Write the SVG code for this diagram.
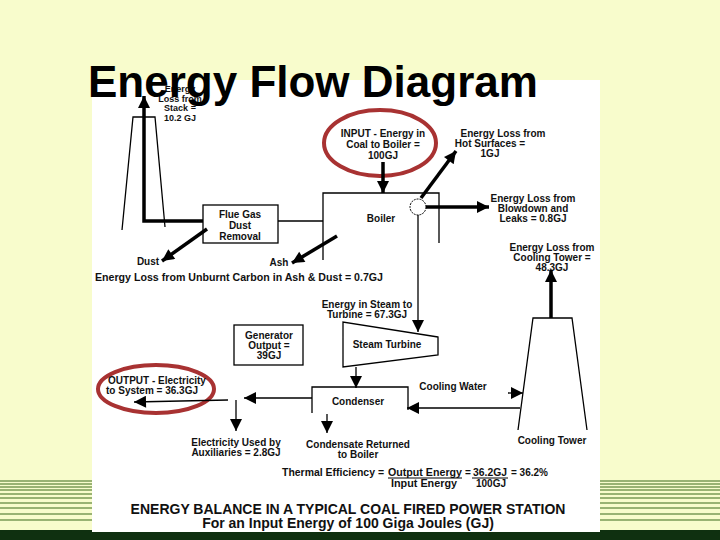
<svg xmlns="http://www.w3.org/2000/svg" width="720" height="540" viewBox="0 0 720 540">
<style>
text{font-family:"Liberation Sans",Arial,sans-serif;font-weight:bold;font-size:10px;fill:#111;text-anchor:middle}
.s{font-size:9px}
.l{fill:none;stroke:#000;stroke-width:1.3}
.t{fill:none;stroke:#000;stroke-width:3.5}
.g{stroke:#3a6a1a;stroke-width:1}
</style>
<defs>
<marker id="am" viewBox="0 0 10 10" refX="10" refY="5" markerWidth="14" markerHeight="12" orient="auto" markerUnits="userSpaceOnUse">
<path d="M0,0 L10,5 L0,10 Z" fill="#000"/>
</marker>
</defs>
<rect width="720" height="540" fill="#f8fccc"/>
<g class="g">
<line x1="0" y1="481" x2="92" y2="481"/><line x1="0" y1="484" x2="92" y2="484"/><line x1="0" y1="487" x2="92" y2="487"/><line x1="0" y1="490" x2="92" y2="490"/><line x1="0" y1="494" x2="92" y2="494"/><line x1="0" y1="498" x2="92" y2="498"/><line x1="0" y1="503" x2="92" y2="503"/><line x1="0" y1="508" x2="92" y2="508"/><line x1="0" y1="514" x2="92" y2="514"/><line x1="0" y1="520" x2="92" y2="520"/>
<line x1="600" y1="481" x2="720" y2="481"/><line x1="600" y1="484" x2="720" y2="484"/><line x1="600" y1="487" x2="720" y2="487"/><line x1="600" y1="490" x2="720" y2="490"/><line x1="600" y1="494" x2="720" y2="494"/><line x1="600" y1="498" x2="720" y2="498"/><line x1="600" y1="503" x2="720" y2="503"/><line x1="600" y1="508" x2="720" y2="508"/><line x1="600" y1="514" x2="720" y2="514"/><line x1="600" y1="520" x2="720" y2="520"/>
</g>
<rect x="0" y="530" width="720" height="10" fill="#0f3010"/>
<rect x="92" y="80" width="508" height="452" fill="#fff"/>

<g id="stack">
<path class="l" d="M122,230 L133,117 L155,117 L165,227"/>
<text class="s" x="180" y="92">Energy</text><text class="s" x="180" y="101.5">Loss from</text><text class="s" x="180" y="111">Stack =</text><text class="s" x="180" y="121">10.2 GJ</text>
</g>
<g id="flue"><rect class="l" x="203" y="205" width="75" height="38"/>
<text x="240" y="218">Flue Gas</text><text x="240" y="229">Dust</text><text x="240" y="240">Removal</text></g>
<g id="boiler"><path class="l" d="M323,260 L323,193 L439,193 L439,243"/><text x="381" y="222">Boiler</text>
<circle cx="418" cy="207" r="8" fill="#fff" stroke="#000" stroke-width="1" stroke-dasharray="2,1"/></g>
<g id="input"><ellipse cx="380" cy="143" rx="56" ry="33" fill="none" stroke="#a83232" stroke-width="4"/>
<text x="383" y="137">INPUT - Energy in</text><text x="383" y="148">Coal to Boiler =</text><text x="383" y="159">100GJ</text></g>
<g id="hot"><text x="503" y="137">Energy Loss from</text><text x="490" y="147">Hot Surfaces =</text><text x="490" y="157">1GJ</text></g>
<g id="blowdown"><text x="533" y="202">Energy Loss from</text><text x="533" y="212">Blowdown and</text><text x="533" y="222">Leaks = 0.8GJ</text></g>
<g id="ctloss"><text x="552" y="251">Energy Loss from</text><text x="552" y="261">Cooling Tower =</text><text x="552" y="271">48.3GJ</text></g>
<g id="ashdust"><text x="148" y="265">Dust</text><text x="279" y="266">Ash</text>
<text x="95" y="281" style="text-anchor:start" textLength="288" lengthAdjust="spacingAndGlyphs">Energy Loss from Unburnt Carbon in Ash &amp; Dust = 0.7GJ</text></g>
<g id="steam"><text x="367" y="308">Energy in Steam to</text><text x="367" y="318">Turbine = 67.3GJ</text></g>
<g id="turbine"><path class="l" d="M438,337 L343,322 L343,367 L438,355 Z"/><text x="387" y="348">Steam Turbine</text></g>
<g id="generator"><rect class="l" x="234" y="325" width="69" height="40"/>
<text x="269" y="339">Generator</text><text x="269" y="349">Output =</text><text x="269" y="359">39GJ</text></g>
<g id="condenser"><path class="l" d="M312,413 L312,387 L408,387 L408,410"/><text x="358" y="405">Condenser</text></g>
<g id="output"><ellipse cx="156" cy="389" rx="58" ry="24" fill="none" stroke="#a83232" stroke-width="4"/>
<text x="157" y="384">OUTPUT - Electricity</text><text x="152" y="394">to System = 36.3GJ</text></g>
<g id="aux"><text x="236" y="446">Electricity Used by</text><text x="236" y="456">Auxiliaries = 2.8GJ</text></g>
<g id="condensate"><text x="358" y="448">Condensate Returned</text><text x="358" y="458">to Boiler</text></g>
<g id="tower"><path class="l" d="M518,430 L533,318 L572,318 L587,430"/><text x="552" y="444">Cooling Tower</text></g>
<text x="453" y="390">Cooling Water</text>
<g id="eff">
<text x="282" y="476" style="text-anchor:start" textLength="102" lengthAdjust="spacingAndGlyphs">Thermal Efficiency =</text>
<text x="388" y="476" style="text-anchor:start" textLength="74" lengthAdjust="spacingAndGlyphs">Output Energy</text>
<text x="391" y="487" style="text-anchor:start" textLength="66" lengthAdjust="spacingAndGlyphs">Input Energy</text>
<line x1="388" y1="478" x2="462" y2="478" stroke="#000"/>
<text x="465" y="476" style="text-anchor:start">=</text>
<text x="473" y="476" style="text-anchor:start" textLength="34" lengthAdjust="spacingAndGlyphs">36.2GJ</text>
<text x="476" y="487" style="text-anchor:start">100GJ</text>
<line x1="472" y1="478" x2="508" y2="478" stroke="#000"/>
<text x="511" y="476" style="text-anchor:start">= 36.2%</text>
</g>
<g id="footer"><text x="348" y="514" style="font-size:14px">ENERGY BALANCE IN A TYPICAL COAL FIRED POWER STATION</text>
<text x="348" y="528" style="font-size:14px">For an Input Energy of 100 Giga Joules (GJ)</text></g>

<g id="connectors">
<path class="t" d="M203,221 L144,221 L144,96" marker-end="url(#am)"/>
<line class="l" x1="278" y1="221" x2="323" y2="221"/>
<line class="t" x1="383" y1="162" x2="383" y2="193" marker-end="url(#am)"/>
<line class="t" x1="421" y1="198" x2="456" y2="151" marker-end="url(#am)"/>
<line class="t" x1="426" y1="207" x2="489" y2="207" marker-end="url(#am)"/>
<line class="t" x1="207" y1="229" x2="162" y2="261" marker-end="url(#am)"/>
<line class="t" x1="337" y1="236" x2="292" y2="263" marker-end="url(#am)"/>
<line class="t" x1="551" y1="318" x2="551" y2="270" marker-end="url(#am)"/>
<line class="l" x1="418" y1="215" x2="418" y2="332" marker-end="url(#am)"/>
<line class="l" x1="356" y1="367" x2="356" y2="388" marker-end="url(#am)"/>
<line class="l" x1="312" y1="398" x2="244" y2="398" marker-end="url(#am)"/>
<line class="l" x1="228" y1="400" x2="134" y2="402" marker-end="url(#am)"/>
<line class="l" x1="236" y1="400" x2="236" y2="431" marker-end="url(#am)"/>
<line class="l" x1="327" y1="414" x2="327" y2="433" marker-end="url(#am)"/>
<line class="l" x1="520" y1="408" x2="407" y2="408" marker-end="url(#am)"/>
<line class="l" x1="508" y1="393" x2="523" y2="393" marker-end="url(#am)"/>
</g>
<text x="88" y="97" style="font-size:44px;text-anchor:start;fill:#000">Energy Flow Diagram</text>
</svg>
